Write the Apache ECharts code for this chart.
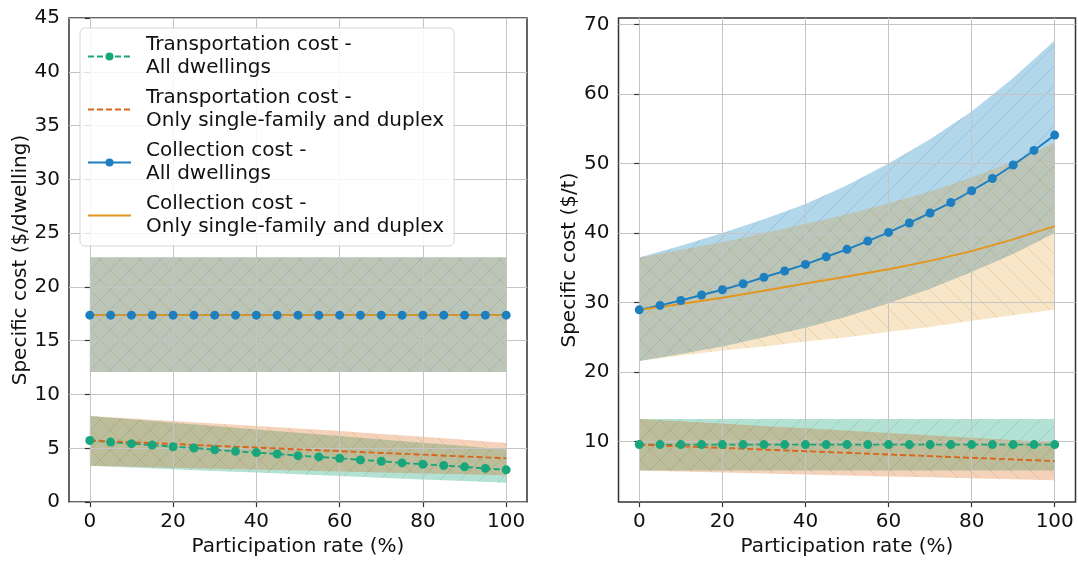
<!DOCTYPE html>
<html><head><meta charset="utf-8">
<script src="https://cdn.jsdelivr.net/npm/echarts@6/dist/echarts.min.js"></script>
<style>html,body{margin:0;padding:0;background:#fff}#c{width:1078px;height:562px}</style>
</head><body><div id="c"></div>
<script>
// ---------- data ----------
const rates5  = [0,5,10,15,20,25,30,35,40,45,50,55,60,65,70,75,80,85,90,95,100];
const rates10 = [0,10,20,30,40,50,60,70,80,90,100];
const xTicks  = [0,20,40,60,80,100];
const yTicksRight = [10,20,30,40,50,60,70];

const seriesNames = [
  'Transportation cost -\nAll dwellings',
  'Transportation cost -\nOnly single-family and duplex',
  'Collection cost -\nAll dwellings',
  'Collection cost -\nOnly single-family and duplex'
];

// Left panel ($/dwelling)
const L_transAll   = [5.73,5.58,5.43,5.30,5.15,5.03,4.87,4.72,4.60,4.47,4.32,4.20,4.08,3.92,3.80,3.64,3.52,3.40,3.28,3.13,3.00];
const L_transAllLo = [3.37,3.21,3.06,2.90,2.74,2.58,2.43,2.27,2.11,1.96,1.80];
const L_transAllHi = [8.00,7.69,7.38,7.07,6.76,6.45,6.14,5.83,5.52,5.21,4.90];
const L_transSF    = [5.73,5.56,5.40,5.23,5.07,4.90,4.74,4.57,4.41,4.24,4.08];
const L_transSFLo  = [3.37,3.28,3.20,3.11,3.02,2.94,2.85,2.76,2.67,2.59,2.50];
const L_transSFHi  = [8.00,7.77,7.54,7.31,7.08,6.85,6.60,6.34,6.07,5.79,5.50];
const L_collAll    = [17.38,17.38,17.38,17.38,17.38,17.38,17.38,17.38,17.38,17.38,17.38,17.38,17.38,17.38,17.38,17.38,17.38,17.38,17.38,17.38,17.38];
const L_collAllLo  = [12.1,12.1,12.1,12.1,12.1,12.1,12.1,12.1,12.1,12.1,12.1];
const L_collAllHi  = [22.75,22.75,22.75,22.75,22.75,22.75,22.75,22.75,22.75,22.75,22.75];
const L_collSF     = [17.38,17.38,17.38,17.38,17.38,17.38,17.38,17.38,17.38,17.38,17.38];
const L_collSFLo   = [12.1,12.1,12.1,12.1,12.1,12.1,12.1,12.1,12.1,12.1,12.1];
const L_collSFHi   = [22.75,22.75,22.75,22.75,22.75,22.75,22.75,22.75,22.75,22.75,22.75];

// Right panel ($/t)
const R_transAll   = [9.57,9.57,9.57,9.57,9.57,9.57,9.57,9.57,9.57,9.57,9.57,9.57,9.57,9.57,9.57,9.57,9.57,9.57,9.57,9.57,9.57];
const R_transAllLo = [5.83,5.83,5.83,5.83,5.83,5.83,5.83,5.83,5.83,5.83,5.83];
const R_transAllHi = [13.27,13.27,13.27,13.27,13.27,13.27,13.27,13.27,13.27,13.27,13.27];
const R_transSF    = [9.57,9.33,9.10,8.86,8.62,8.39,8.15,7.91,7.67,7.44,7.20];
const R_transSFLo  = [5.83,5.69,5.55,5.42,5.28,5.14,5.00,4.86,4.72,4.59,4.45];
const R_transSFHi  = [13.27,12.93,12.60,12.26,11.92,11.59,11.25,10.91,10.57,10.24,9.90];
const R_collAll    = [28.96,29.6,30.3,31.1,31.85,32.7,33.65,34.55,35.5,36.6,37.67,38.86,40.1,41.46,42.9,44.4,46.1,47.85,49.8,51.9,54.1];
const R_collAllLo  = [21.6,22.6,23.7,25.0,26.4,28.0,29.9,32.0,34.4,37.0,40.0];
const R_collAllHi  = [36.5,38.2,40.0,42.0,44.2,46.9,50.0,53.5,57.5,62.3,67.7];
const R_collSF     = [28.96,29.8,30.7,31.7,32.75,33.75,34.8,36.0,37.4,39.1,41.0];
const R_collSFLo   = [21.6,22.4,23.1,23.7,24.4,25.0,25.8,26.5,27.4,28.2,29.0];
const R_collSFHi   = [36.5,37.6,38.7,40.0,41.3,42.7,44.3,46.0,48.0,50.3,53.0];

// ---------- styling ----------
const FONT = 'DejaVu Sans';
const TXT = '#111';
const C_green  = '#1aa67c';
const C_red    = '#d9651c';
const C_blue   = '#1d7fc0';
const C_orange = '#e3961e';

function hatch(fill, stroke, dir) {
  const s = 20;
  const cv = document.createElement('canvas');
  cv.width = s; cv.height = s;
  const ctx = cv.getContext('2d');
  ctx.fillStyle = fill;
  ctx.fillRect(0, 0, s, s);
  ctx.strokeStyle = stroke;
  ctx.lineWidth = 1;
  ctx.beginPath();
  if (dir === '/') {
    ctx.moveTo(-2, s + 2); ctx.lineTo(s + 2, -2);
    ctx.moveTo(-2, 2); ctx.lineTo(2, -2);
    ctx.moveTo(s - 2, s + 2); ctx.lineTo(s + 2, s - 2);
  } else {
    ctx.moveTo(-2, -2); ctx.lineTo(s + 2, s + 2);
    ctx.moveTo(s - 2, -2); ctx.lineTo(s + 2, 2);
    ctx.moveTo(-2, s - 2); ctx.lineTo(2, s + 2);
  }
  ctx.stroke();
  return { image: cv, repeat: 'repeat' };
}
const P_green  = hatch('rgba(2,158,115,0.30)',  'rgba(2,130,100,0.18)',  '/');
const P_red    = hatch('rgba(213,94,0,0.27)',   'rgba(200,90,10,0.18)',  '\\');
const P_blue   = hatch('rgba(42,143,200,0.36)', 'rgba(20,100,160,0.18)', '/');
const P_orange = hatch('rgba(222,143,5,0.22)',  'rgba(190,125,20,0.22)', '\\');

const pairs = (xs, ys) => xs.map((x, i) => [x, ys[i]]);

function band(g, xs, lo, hi, pattern) {
  return {
    type: 'custom', xAxisIndex: g, yAxisIndex: g, silent: true, z: 1, animation: false,
    data: xs.map((x, i) => [x, lo[i], hi[i]]),
    encode: { x: 0, y: [1, 2] },
    renderItem: (params, api) => {
      if (params.dataIndex !== 0) return null;
      const pts = [];
      for (let i = 0; i < xs.length; i++) pts.push(api.coord([xs[i], hi[i]]));
      for (let i = xs.length - 1; i >= 0; i--) pts.push(api.coord([xs[i], lo[i]]));
      return { type: 'polygon', shape: { points: pts }, style: { fill: pattern } };
    }
  };
}
function line(name, g, xs, ys, color, dashed, marker) {
  return { name, type: 'line', xAxisIndex: g, yAxisIndex: g, data: pairs(xs, ys),
    symbol: 'circle', symbolSize: 9, showSymbol: marker,
    lineStyle: { color, width: 1.9, type: dashed ? [6, 3] : 'solid' },
    itemStyle: { color }, z: 3, animation: false };
}

const axisText = { fontSize: 20, color: TXT, fontFamily: FONT };
function xAx(g) {
  return { gridIndex: g, type: 'value', min: -5, max: 105, z: 2,
    axisLine: { show: false },
    axisTick: { show: true, length: 5, lineStyle: { color: '#333', width: 1.2 }, customValues: xTicks },
    axisLabel: Object.assign({ customValues: xTicks, margin: 10 }, axisText),
    splitLine: { show: true, lineStyle: { color: '#c4c4c4', width: 1 } },
    name: 'Participation rate (%)', nameLocation: 'middle', nameGap: 33,
    nameTextStyle: axisText };
}

const series = [
  band(0, rates10, L_transAllLo, L_transAllHi, P_green),
  band(0, rates10, L_transSFLo, L_transSFHi, P_red),
  band(0, rates10, L_collAllLo, L_collAllHi, P_blue),
  band(0, rates10, L_collSFLo, L_collSFHi, P_orange),
  band(1, rates10, R_transAllLo, R_transAllHi, P_green),
  band(1, rates10, R_transSFLo, R_transSFHi, P_red),
  band(1, rates10, R_collAllLo, R_collAllHi, P_blue),
  band(1, rates10, R_collSFLo, R_collSFHi, P_orange),
  line(seriesNames[0], 0, rates5, L_transAll, C_green, true, true),
  line(seriesNames[1], 0, rates10, L_transSF, C_red, true, false),
  line(seriesNames[2], 0, rates5, L_collAll, C_blue, false, true),
  line(seriesNames[3], 0, rates10, L_collSF, C_orange, false, false),
  line(seriesNames[0], 1, rates5, R_transAll, C_green, true, true),
  line(seriesNames[1], 1, rates10, R_transSF, C_red, true, false),
  line(seriesNames[2], 1, rates5, R_collAll, C_blue, false, true),
  line(seriesNames[3], 1, rates10, R_collSF, C_orange, false, false)
];

const chart = echarts.init(document.getElementById('c'), null, { renderer: 'canvas' });
chart.setOption({
  animation: false,
  backgroundColor: '#fff',
  textStyle: { fontFamily: FONT },
  grid: [
    { left: 69, top: 18, width: 458, height: 490, show: true, borderColor: '#333', borderWidth: 1.5, backgroundColor: 'transparent' },
    { left: 618.5, top: 18, width: 457, height: 490, show: true, borderColor: '#333', borderWidth: 1.5, backgroundColor: 'transparent' }
  ],
  xAxis: [xAx(0), xAx(1)],
  yAxis: [
    { gridIndex: 0, type: 'value', min: 0, max: 45, interval: 5, z: 2,
      axisLine: { show: false },
      axisTick: { show: true, length: 5, lineStyle: { color: '#333', width: 1.2 } },
      axisLabel: Object.assign({ margin: 9 }, axisText),
      splitLine: { show: true, lineStyle: { color: '#c4c4c4', width: 1 } },
      name: 'Specific cost ($/dwelling)', nameLocation: 'middle', nameGap: 35, nameTextStyle: axisText },
    { gridIndex: 1, type: 'value', min: 1.3, max: 70.95, z: 2,
      axisLine: { show: false },
      axisTick: { show: true, length: 5, lineStyle: { color: '#333', width: 1.2 }, customValues: yTicksRight },
      axisLabel: Object.assign({ margin: 9, customValues: yTicksRight }, axisText),
      splitLine: { show: true, lineStyle: { color: '#c4c4c4', width: 1 } },
      name: 'Specific cost ($/t)', nameLocation: 'middle', nameGap: 35, nameTextStyle: axisText }
  ],
  legend: {
    data: [
      { name: seriesNames[0] },
      { name: seriesNames[1], itemStyle: { opacity: 0 } },
      { name: seriesNames[2] },
      { name: seriesNames[3], itemStyle: { opacity: 0 } }
    ],
    orient: 'vertical', left: 80, top: 28,
    itemWidth: 43, itemHeight: 10, itemGap: 6, padding: [5, 10, 7, 7],
    backgroundColor: 'rgba(255,255,255,0.85)', borderColor: '#d5d5d5', borderWidth: 1, borderRadius: 5,
    textStyle: { fontSize: 20, lineHeight: 23.5, color: TXT, fontFamily: FONT, padding: [0, 0, 0, 10] },
    selectedMode: false, z: 20
  },
  series
});
</script></body></html>
